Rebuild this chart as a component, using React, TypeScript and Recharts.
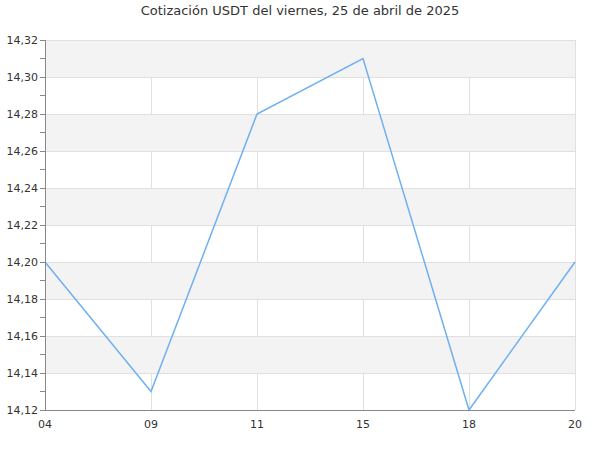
import React from "react";
import {
  LineChart,
  Line,
  XAxis,
  YAxis,
  CartesianGrid,
  ReferenceArea,
  ReferenceLine,
} from "recharts";

const categories = ["04", "09", "11", "15", "18", "20"];
const prices = [14.2, 14.13, 14.28, 14.31, 14.12, 14.2];
const yTicks = [14.12, 14.13, 14.14, 14.15, 14.16, 14.17, 14.18, 14.19, 14.2, 14.21, 14.22, 14.23, 14.24, 14.25, 14.26, 14.27, 14.28, 14.29, 14.3, 14.31, 14.32];
const majorTicks = [14.12, 14.14, 14.16, 14.18, 14.2, 14.22, 14.24, 14.26, 14.28, 14.3, 14.32];
const bands: [number, number][] = [
  [14.14, 14.16],
  [14.18, 14.2],
  [14.22, 14.24],
  [14.26, 14.28],
  [14.3, 14.32],
];

const data = categories.map((c, i) => ({ hour: c, value: prices[i] }));

const isMajor = (v: number) => majorTicks.some((m) => Math.abs(m - v) < 1e-6);

const YTick = (props: any) => {
  const { x, y, payload } = props;
  if (!isMajor(payload.value)) return null;
  return (
    <text
      x={x}
      y={y}
      dy={4}
      textAnchor="end"
      fill="#333"
      fontSize={11}
      fontFamily="DejaVu Sans"
    >
      {payload.value.toFixed(2).replace(".", ",")}
    </text>
  );
};

export default function App() {
  return (
    <div style={{ position: "absolute", left: 0, top: 0, width: 600, height: 450, background: "#fff" }}>
      <div
        style={{
          position: "absolute",
          left: 0,
          top: 3,
          width: 600,
          textAlign: "center",
          fontFamily: "DejaVu Sans",
          fontSize: 13,
          color: "#333",
        }}
      >
        Cotización USDT del viernes, 25 de abril de 2025
      </div>
      <LineChart
        width={600}
        height={450}
        data={data}
        margin={{ top: 40, right: 25, left: 0, bottom: 0 }}
      >
        {bands.map(([a, b]) => (
          <ReferenceArea key={a} y1={a} y2={b} fill="#f3f3f3" fillOpacity={1} stroke="none" ifOverflow="visible" shapeRendering="crispEdges" />
        ))}
        <CartesianGrid horizontal={false} stroke="#e0e0e0" shapeRendering="crispEdges" />
        {majorTicks.map((t) => (
          <ReferenceLine key={t} y={t} stroke="#e0e0e0" shapeRendering="crispEdges" />
        ))}
        <XAxis
          dataKey="hour"
          height={40}
          tickLine={false}
          axisLine={{ stroke: "#888", shapeRendering: "crispEdges" }}
          tick={{ fill: "#333", fontSize: 11, fontFamily: "DejaVu Sans" }}
          tickMargin={4}
        />
        <YAxis
          width={45}
          domain={[14.12, 14.32]}
          ticks={yTicks}
          interval={0}
          axisLine={{ stroke: "#888", shapeRendering: "crispEdges" }}
          tickLine={{ stroke: "#888", shapeRendering: "crispEdges" }}
          tickSize={5}
          tick={<YTick />}
        />
        <Line
          type="linear"
          dataKey="value"
          stroke="#6eb0f2"
          strokeWidth={1.5}
          dot={false}
          isAnimationActive={false}
        />
      </LineChart>
    </div>
  );
}
